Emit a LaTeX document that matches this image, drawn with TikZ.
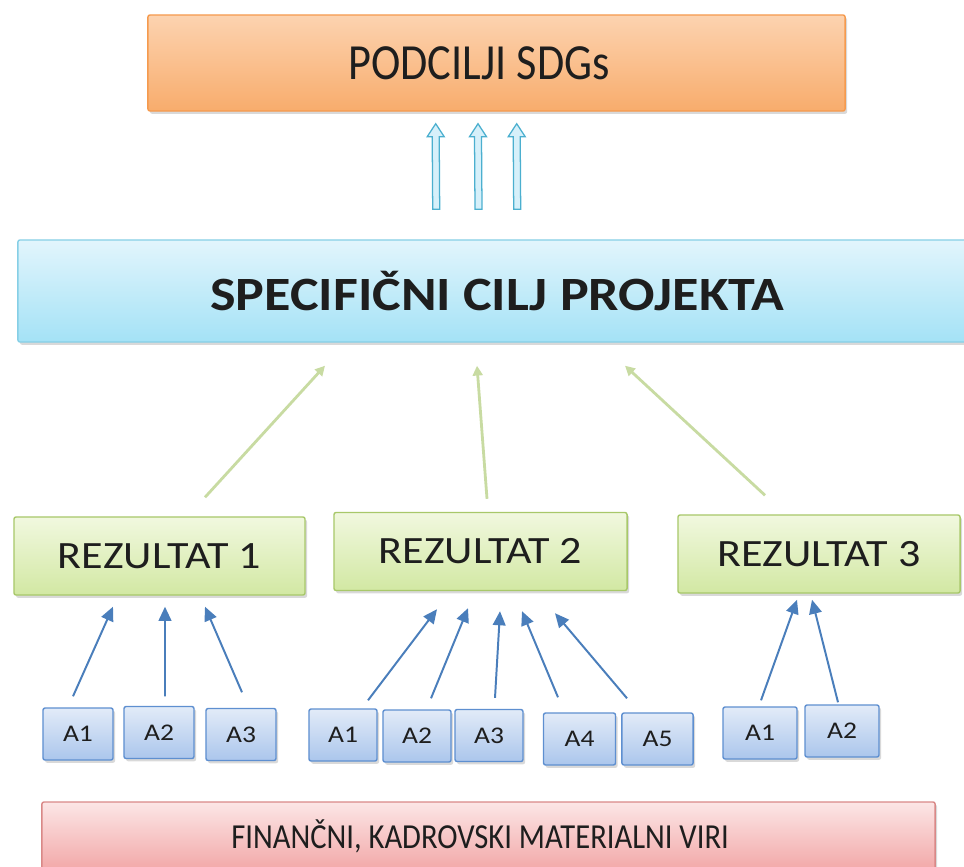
\documentclass[tikz,border=0pt]{standalone}
\usepackage{fontspec}
\setmainfont{Carlito}
\newfontfamily\sdgfont[FakeStretch=0.875]{Carlito}
\newfontfamily\specfont[FakeStretch=1.13]{Carlito}
\newfontfamily\resfont[FakeStretch=1.14]{Carlito}
\newfontfamily\actfont[FakeStretch=1.15]{Carlito}
\newfontfamily\srcfont[FakeStretch=0.87]{Carlito}
\usetikzlibrary{arrows.meta,calc,shadows}
\definecolor{orgline}{HTML}{F59A4E}
\definecolor{orgtop}{HTML}{FCD3B0}
\definecolor{orgbot}{HTML}{F8AC6C}
\definecolor{cyline}{HTML}{86CFE6}
\definecolor{cytop}{HTML}{E2F5FC}
\definecolor{cybot}{HTML}{A4E2F6}
\definecolor{grline}{HTML}{A8C86A}
\definecolor{grtop}{HTML}{F1F8DF}
\definecolor{grbot}{HTML}{D2E8A3}
\definecolor{blline}{HTML}{5E8FD0}
\definecolor{bltop}{HTML}{E2EBF8}
\definecolor{blbot}{HTML}{ABC6EC}
\definecolor{pkline}{HTML}{D98887}
\definecolor{pktop}{HTML}{FCE6E6}
\definecolor{pkbot}{HTML}{F2A8A8}
\definecolor{actarrow}{HTML}{4A7EBB}
\definecolor{resarrow}{HTML}{C8DBA2}
\definecolor{upline}{HTML}{4BAFCF}
\definecolor{upfill}{HTML}{D6F0FA}
\definecolor{txt}{HTML}{1E1E1E}
\tikzset{
	box/.style={draw, line width=1pt, rounded corners=1.5pt, inner sep=0pt, align=center, text=txt,
		drop shadow={shadow xshift=1.5pt, shadow yshift=-2pt, opacity=.3}},
	sdgbox/.style={box, draw=orgline, top color=orgtop, bottom color=orgbot,
		minimum width=17.425cm, minimum height=2.4cm, font=\sdgfont\fontsize{36}{40}\selectfont},
	specbox/.style={box, draw=cyline, top color=cytop, bottom color=cybot,
		minimum width=23.95cm, minimum height=2.55cm, font=\specfont\bfseries\fontsize{34}{38}\selectfont},
	resbox/.style={box, draw=grline, top color=grtop, bottom color=grbot,
		minimum height=1.95cm, font=\resfont\fontsize{27.5}{30}\selectfont},
	actbox/.style={box, draw=blline, top color=bltop, bottom color=blbot,
		minimum width=1.75cm, minimum height=1.3cm, font=\actfont\fontsize{17}{19}\selectfont},
	srcbox/.style={box, draw=pkline, top color=pktop, bottom color=pkbot,
		minimum width=22.325cm, minimum height=1.7cm, font=\srcfont\fontsize{25}{28}\selectfont},
	act/.style={draw=actarrow, line width=1.4pt, -{Triangle[length=10pt,width=9pt]}},
	res/.style={draw=resarrow, line width=2pt, -{Triangle[length=7pt,width=7pt]}},
	uparrow/.style={draw=upline, line width=.9pt, fill=upfill, line join=miter},
}
\begin{document}
\begin{tikzpicture}[x=0.025cm,y=-0.025cm]
	\useasboundingbox (0,0) rectangle (964,866);
	% boxes
	\node[sdgbox] (sdg) at (496.5,63) {\hspace*{-25pt}PODCILJI SDGs};
	\node[specbox] (spec) at (497,291) {SPECIFIČNI CILJ PROJEKTA};
	\node[resbox, minimum width=7.275cm] (r1) at (159.5,556) {REZULTAT 1};
	\node[resbox, minimum width=7.325cm] (r2) at (480.5,551.5) {REZULTAT 2};
	\node[resbox, minimum width=7.05cm] (r3) at (819,554) {REZULTAT 3};
	\node[actbox] (a11) at (78,734) {A1};
	\node[actbox] (a12) at (159,732.5) {A2};
	\node[actbox] (a13) at (241,734.5) {A3};
	\node[actbox, minimum width=1.7cm] (a21) at (343,735) {A1};
	\node[actbox, minimum width=1.7cm] (a22) at (417,736) {A2};
	\node[actbox, minimum width=1.7cm] (a23) at (489,735.5) {A3};
	\node[actbox, minimum width=1.8cm] (a24) at (579.5,739) {A4};
	\node[actbox, minimum width=1.78cm] (a25) at (657.5,739) {A5};
	\node[actbox, minimum width=1.85cm] (a31) at (760,733) {A1};
	\node[actbox, minimum width=1.85cm] (a32) at (842,731) {A2};
	\node[srcbox] (src) at (488.5,836) {\hspace*{-12pt}FINANČNI, KADROVSKI MATERIALNI VIRI};
	% arrows
	\foreach \dx in {-60.8,-18.5,20.2}
		\draw[uparrow] ($(sdg.south)+(\dx,12)$) -- ++(-8.5,13) -- ++(5,0)
			-- ($(spec.north)+(\dx-3.5,-30)$) -- ++(7,0)
			-- ($(sdg.south)+(\dx+3.5,25)$) -- ++(5,0) -- cycle;
	\draw[res] ($(r1.north)+(45.5,-19)$) -- ($(spec.south)+(-172,23)$);
	\draw[res] ($(r2.north)+(6.5,-13)$) -- ($(spec.south)+(-20,23)$);
	\draw[res] ($(r3.north)+(-54,-19)$) -- ($(spec.south)+(128,23)$);
	\draw[act] ($(a11.north)+(-5,-11)$) -- ($(r1.south)+(-46.5,11)$);
	\draw[act] ($(a12.north)+(6,-9.5)$) -- ($(r1.south)+(5.5,11)$);
	\draw[act] ($(a13.north)+(1,-15.5)$) -- ($(r1.south)+(45.5,11)$);
	\draw[act] ($(a21.north)+(25,-8)$) -- ($(r2.south)+(-43.5,18)$);
	\draw[act] ($(a22.north)+(14,-11)$) -- ($(r2.south)+(-12.5,17)$);
	\draw[act] ($(a23.north)+(6,-11)$) -- ($(r2.south)+(19.5,20)$);
	\draw[act] ($(a24.north)+(-21.5,-15)$) -- ($(r2.south)+(41.5,20)$);
	\draw[act] ($(a25.north)+(-30.5,-14)$) -- ($(r2.south)+(74.5,22)$);
	\draw[act] ($(a31.north)+(1,-6)$) -- ($(r3.south)+(-22,6)$);
	\draw[act] ($(a32.north)+(-4,-2)$) -- ($(r3.south)+(-7,6)$);
\end{tikzpicture}
\end{document}
